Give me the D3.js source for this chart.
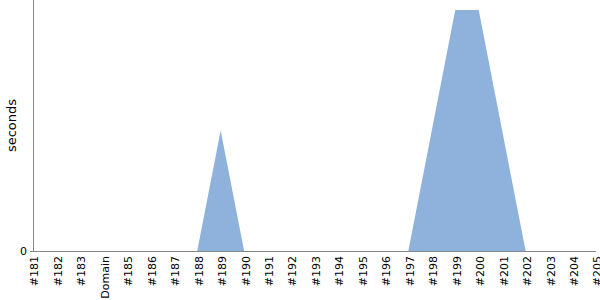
<!DOCTYPE html>
<html>
<head>
<meta charset="utf-8">
<script src="https://cdn.jsdelivr.net/npm/d3@7"></script>
<style>
  body { margin: 0; background: #fff; }
</style>
</head>
<body>
<svg width="600" height="300"></svg>
<script>
const builds = ["#181", "#182", "#183", "Domain", "#185", "#186", "#187", "#188", "#189", "#190",
  "#191", "#192", "#193", "#194", "#195", "#196", "#197", "#198", "#199", "#200",
  "#201", "#202", "#203", "#204", "#205"];
const seconds = [0, 0, 0, 0, 0, 0, 0, 0, 5, 0,
  0, 0, 0, 0, 0, 0, 0, 5, 10, 10,
  5, 0, 0, 0, 0];

const margin = { left: 33, right: 4, top: 10, bottom: 49 };
const width = 600, height = 300;
const font = "'DejaVu Sans', sans-serif";

const svg = d3.select("svg");

const x_scale = d3.scalePoint().domain(builds).range([margin.left, width - margin.right]);
const y_scale = d3.scaleLinear().domain([0, d3.max(seconds)]).range([height - margin.bottom, margin.top]);

const area = d3.area()
  .x((d, i) => x_scale(builds[i]))
  .y0(y_scale(0))
  .y1(d => y_scale(d));

svg.append("path")
  .attr("fill", "#8fb2dc")
  .attr("d", area(seconds));

// x axis
const xAxis = svg.append("g")
  .attr("transform", `translate(0,${y_scale(0)})`)
  .call(d3.axisBottom(x_scale).tickSize(0).tickPadding(4))
  .attr("font-family", font);
xAxis.select(".domain").attr("stroke", "#888").attr("d", `M${margin.left},0.5H${width - margin.right}`);
xAxis.selectAll("text")
  .attr("transform", "rotate(-90)")
  .attr("text-anchor", "end")
  .attr("x", -5)
  .attr("y", 0)
  .attr("dy", "0.45em")
  .style("font-size", "11px")
  .attr("fill", "#000");

// y axis
const yAxis = svg.append("g")
  .attr("transform", `translate(${margin.left},0)`)
  .call(d3.axisLeft(y_scale).tickValues([0]).tickSize(3).tickPadding(3))
  .attr("font-family", font);
yAxis.select(".domain").attr("stroke", "#888").attr("d", `M0.5,0V${y_scale(0)}`);
yAxis.selectAll(".tick line").attr("stroke", "#888");
yAxis.selectAll("text").style("font-size", "11px").attr("fill", "#000");

// y label
svg.append("text")
  .attr("transform", `translate(16,${(y_scale(0)) / 2}) rotate(-90)`)
  .attr("text-anchor", "middle")
  .attr("font-family", font)
  .style("font-size", "13px")
  .text("seconds");
</script>
</body>
</html>
